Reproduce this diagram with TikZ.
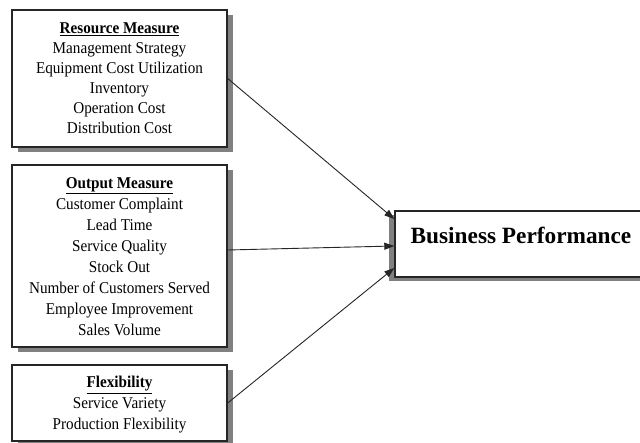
\documentclass[tikz,border=0pt]{standalone}
\usepackage{fontspec}
\setmainfont{Liberation Serif}
\newfontfamily\narrowserif[FakeStretch=0.92]{Liberation Serif}
\usetikzlibrary{arrows.meta,shadows}
\begin{document}
\begin{tikzpicture}[x=1pt,y=-1pt,
  box/.style={draw=black!85, line width=1.4pt, fill=white, inner sep=0pt},
  lshadow/.style={drop shadow={shadow xshift=6pt, shadow yshift=-5pt, opacity=1, fill=black!50}},
  rshadow/.style={drop shadow={shadow xshift=-6pt, shadow yshift=-4pt, opacity=1, fill=black!50}},
  arr/.style={-{Triangle[length=10pt,width=7pt]}, line width=0.9pt, draw=black!85},
  txt/.style={align=center, inner sep=0pt}]
\useasboundingbox (0,0) rectangle (640,443);
\clip (0,0) rectangle (640,443);
\fill[white] (0,0) rectangle (640,443);

% boxes
\node[box, lshadow, minimum width=215pt, minimum height=137pt] (res) at (119.5,78.5) {};
\node[box, lshadow, minimum width=215pt, minimum height=182pt] (out) at (119.5,256) {};
\node[box, lshadow, minimum width=215pt, minimum height=76pt] (flex) at (119.5,403) {};
\node[box, rshadow, minimum width=260pt, minimum height=66pt] (bp) at (525,244) {};

% texts
\node[txt, font=\narrowserif\fontsize{16.5}{20}\selectfont] (rest) at (119.5,78) {\underline{\textbf{Resource Measure}}\\Management Strategy\\Equipment Cost Utilization\\Inventory\\Operation Cost\\Distribution Cost};
\node[txt, font=\narrowserif\fontsize{16.5}{21}\selectfont] (outt) at (119.5,256.5) {\underline{\textbf{Output Measure}}\\Customer Complaint\\Lead Time\\Service Quality\\Stock Out\\Number of Customers Served\\Employee Improvement\\Sales Volume};
\node[txt, font=\narrowserif\fontsize{16.5}{21}\selectfont] (flext) at (119.5,405) {\underline{\textbf{Flexibility}}\\Service Variety\\Production Flexibility};
\node[txt, font=\fontsize{23.3}{26}\selectfont\bfseries] (bpt) at (521,235) {Business Performance};

% arrows
\draw[arr] (res.east) -- ([yshift=25pt]bp.west);
\draw[arr] ([yshift=6pt]out.east) -- ([yshift=-2pt]bp.west);
\draw[arr] (flex.east) -- ([yshift=-24pt]bp.west);
\end{tikzpicture}
\end{document}
